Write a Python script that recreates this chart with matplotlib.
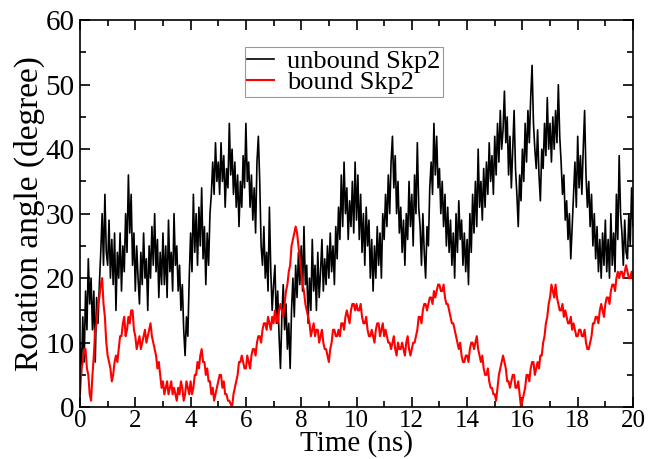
import numpy as np
import matplotlib
matplotlib.use("Agg")
import matplotlib.pyplot as plt
from matplotlib.ticker import MultipleLocator

plt.rcParams['font.family'] = ['Liberation Serif', 'DejaVu Serif']

# unbound Skp2, one value every 0.05 ns
unbound = [
    10, 5, 14, 7, 18, 12, 23, 16, 20, 12, 18, 7, 17, 13, 19, 24, 30, 22, 33, 24,
    22, 29, 20, 26, 19, 27, 15, 24, 20, 27, 18, 25, 21, 30, 24, 36, 27, 33, 22, 27,
    18, 25, 20, 16, 24, 19, 27, 20, 23, 15, 25, 20, 28, 22, 30, 21, 26, 17, 24, 19,
    27, 19, 25, 17, 29, 21, 24, 18, 30, 22, 25, 18, 22, 15, 19, 12, 8, 14, 11, 20,
    27, 21, 33, 24, 30, 22, 31, 25, 34, 23, 28, 19, 27, 22, 30, 33, 38, 33, 41, 35,
    38, 33, 41, 35, 39, 31, 37, 34, 44, 36, 40, 33, 38, 31, 36, 28, 35, 31, 39, 34,
    44, 35, 38, 31, 36, 29, 34, 27, 38, 42, 35, 25, 22, 28, 20, 24, 18, 31, 21, 15,
    19, 22, 13, 18, 11, 6, 14, 19, 12, 16, 9, 13, 6, 15, 20, 14, 22, 17, 24, 19,
    25, 18, 28, 19, 22, 13, 20, 15, 26, 18, 22, 15, 24, 17, 21, 26, 18, 23, 19, 25,
    20, 27, 21, 25, 19, 28, 23, 31, 26, 36, 28, 38, 30, 34, 26, 32, 28, 35, 27, 38,
    29, 36, 26, 33, 24, 30, 22, 31, 25, 29, 20, 26, 18, 25, 20, 28, 22, 27, 20, 30,
    26, 33, 28, 36, 30, 38, 42, 34, 39, 30, 35, 27, 31, 24, 29, 22, 30, 26, 35, 28,
    33, 25, 36, 30, 41, 31, 28, 22, 30, 24, 20, 28, 25, 34, 38, 33, 44, 36, 42, 34,
    37, 30, 35, 28, 33, 25, 31, 24, 29, 22, 27, 20, 30, 24, 32, 26, 29, 22, 27, 21,
    26, 19, 30, 24, 33, 27, 35, 28, 40, 31, 35, 29, 37, 31, 38, 33, 41, 35, 39, 33,
    42, 36, 44, 38, 46, 40, 43, 49, 41, 45, 36, 42, 34, 40, 46, 37, 33, 28, 36, 32,
    40, 35, 44, 38, 46, 41, 48, 53, 44, 40, 37, 43, 36, 32, 40, 37, 44, 39, 48, 40,
    44, 38, 45, 40, 46, 41, 50, 42, 38, 33, 36, 29, 32, 26, 30, 23, 28, 33, 38, 31,
    42, 34, 39, 33, 40, 46, 36, 31, 35, 28, 33, 25, 30, 23, 28, 21, 26, 20, 27, 22,
    29, 21, 26, 20, 30, 22, 27, 21, 33, 26, 39, 30, 27, 22, 29, 24, 23, 30, 25, 34,
    28,
]

# bound Skp2, one value every 0.05 ns
bound = [
    2, 6, 7, 9, 9, 6, 5, 2, 1, 5, 8, 12, 13, 16, 17, 19, 20, 16, 14, 10,
    8, 7, 6, 4, 5, 7, 8, 7, 9, 11, 11, 13, 14, 11, 12, 14, 13, 15, 15, 12,
    11, 9, 10, 11, 9, 10, 11, 12, 10, 11, 12, 13, 11, 10, 9, 8, 6, 7, 5, 3,
    4, 2, 3, 4, 2, 3, 4, 2, 3, 2, 1, 3, 2, 4, 3, 1, 2, 4, 3, 2,
    4, 2, 3, 5, 5, 7, 6, 8, 9, 7, 7, 5, 6, 4, 4, 2, 3, 1, 2, 3,
    4, 5, 5, 3, 4, 2, 2, 1, 1, 0.5, 0, 2, 3, 4, 5, 7, 7, 8, 7, 6,
    6, 8, 7, 6, 8, 9, 9, 8, 10, 11, 11, 10, 12, 13, 13, 12, 14, 13, 12, 14,
    13, 15, 14, 13, 15, 16, 15, 14, 16, 18, 19, 21, 22, 25, 26, 27, 28, 27, 25, 23,
    21, 19, 18, 16, 15, 14, 13, 11, 12, 13, 11, 12, 12, 10, 11, 12, 10, 9, 9, 8,
    7, 9, 10, 12, 12, 11, 11, 12, 11, 13, 13, 12, 14, 15, 14, 13, 15, 16, 16, 15,
    16, 15, 15, 16, 14, 13, 13, 14, 12, 11, 11, 12, 11, 10, 12, 13, 13, 11, 12, 13,
    11, 12, 11, 10, 10, 9, 10, 11, 9, 8, 10, 9, 9, 10, 9, 8, 10, 11, 9, 8,
    9, 10, 10, 11, 12, 14, 14, 13, 15, 16, 16, 15, 16, 17, 17, 16, 18, 17, 18, 19,
    19, 18, 18, 19, 17, 16, 16, 15, 14, 13, 13, 12, 11, 10, 9, 10, 8, 7, 7, 8,
    8, 7, 9, 10, 10, 9, 10, 11, 9, 8, 7, 8, 6, 5, 5, 6, 4, 3, 3, 2,
    2, 1, 3, 5, 6, 7, 8, 7, 6, 4, 4, 3, 4, 5, 5, 3, 3, 4, 2, 0,
    1, 2, 3, 5, 5, 4, 6, 7, 7, 5, 6, 7, 6, 8, 8, 10, 11, 13, 14, 16,
    17, 19, 18, 17, 19, 17, 16, 15, 15, 16, 14, 15, 14, 13, 13, 14, 12, 13, 12, 11,
    11, 12, 12, 11, 11, 12, 10, 9, 9, 10, 11, 13, 13, 14, 14, 13, 15, 16, 15, 14,
    16, 17, 17, 16, 18, 19, 19, 18, 20, 21, 20, 21, 21, 20, 21, 22, 21, 20, 20, 21,
    20,
]

t_unbound = np.linspace(0, 20, len(unbound))
t_bound = np.linspace(0, 20, len(bound))

fig = plt.figure(figsize=(6.58, 4.59), dpi=100)
ax = fig.add_axes([0.1216, 0.113, 0.8404, 0.843])

ax.plot(t_unbound, unbound, color='black', lw=1.2, label='unbound Skp2')
ax.plot(t_bound, bound, color='red', lw=1.5, label='bound Skp2')

ax.set_xlim(0, 20)
ax.set_ylim(0, 60)
ax.xaxis.set_major_locator(MultipleLocator(2))
ax.xaxis.set_minor_locator(MultipleLocator(1))
ax.yaxis.set_major_locator(MultipleLocator(10))
ax.yaxis.set_minor_locator(MultipleLocator(5))
ax.tick_params(which='both', direction='in', top=True, right=True, width=1.2)
ax.tick_params(axis='x', labelsize=18, pad=2)
ax.tick_params(axis='y', labelsize=21, pad=4)
ax.tick_params(which='major', length=7)
ax.tick_params(which='minor', length=4)
for s in ax.spines.values():
    s.set_linewidth(1.2)

ax.set_xlabel('Time (ns)', fontsize=21, labelpad=-1)
ax.set_ylabel('Rotation angle (degree)', fontsize=24, labelpad=0)

leg = ax.legend(loc='upper left', bbox_to_anchor=(0.298, 0.93), borderaxespad=0,
                fontsize=19, handlelength=1.0, handletextpad=0.5, fancybox=False,
                frameon=True, borderpad=0.1, labelspacing=-0.1)
leg.get_frame().set_edgecolor('gray')
leg.get_frame().set_linewidth(0.8)

fig.savefig('out.png', dpi=100)
